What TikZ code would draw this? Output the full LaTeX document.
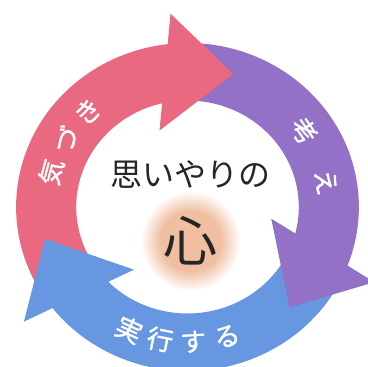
\documentclass[tikz,border=0pt]{standalone}
\usepackage{fontspec}
\usepackage{tikz}
\usetikzlibrary{positioning}
\newfontfamily\jp{Noto Sans CJK JP}
\newfontfamily\jpb[FakeBold=1.2]{Noto Sans CJK JP}
\definecolor{kiduki}{RGB}{233,106,128}
\definecolor{kangae}{RGB}{146,113,198}
\definecolor{jikkou}{RGB}{104,151,225}
\definecolor{peach}{RGB}{240,190,160}
\pgfdeclareradialshading{glow}{\pgfpoint{0bp}{0bp}}{color(0bp)=(peach); color(15bp)=(peach); color(25bp)=(white)}

\begin{document}
\begin{tikzpicture}[x=1pt,y=1pt,
    ringlabel/.style={text=white,font=\jpb\fontsize{26}{26}\selectfont,inner sep=0pt},
    centre/.style={text=black!85,font=\jp\fontsize{#1}{#1}\selectfont,inner sep=0pt}]
  \fill[white] (0,0) rectangle (367,367);
  \useasboundingbox (0,0) rectangle (367,367);
  \coordinate (c) at (187.5,160);
  \coordinate (heart) at (190.5,126);
  \shade[shading=glow] (heart) circle (50);
  \begin{scope}[shift={(c)},xscale=1.045]
    % shafts first, heads on top
    \foreach \col/\s/\t in {kiduki/215/71.8, jikkou/-24/-166.8, kangae/93.6/-45.8}
      \fill[\col] (\s:164) arc[start angle=\s,end angle=\t+23.8,radius=164]
        -- ({\t+30.4}:106.5) arc[start angle=\t+30.4,end angle=\s,radius=106.5] -- cycle;
    \foreach \col/\t in {kiduki/71.8, jikkou/-166.8, kangae/-45.8}
      \fill[\col] ({\t+23}:194) -- (\t:140) -- ({\t+37.5}:81) -- cycle;
    % labels on the ring
    \foreach \ch/\a [count=\i] in {気/165, づ/150, き/135}
      \node[ringlabel,rotate=\a-90] (ki\i) at (\a:135) {\ch};
    \foreach \ch/\a [count=\i] in {考/34.3, え/10.6}
      \node[ringlabel,rotate=\a-90] (ka\i) at (\a:135) {\ch};
    \foreach \ch/\a [count=\i] in {実/245.5, 行/258.8, す/272.3, る/286.2}
      \node[ringlabel,rotate=\a+90] (ji\i) at (\a:135) {\ch};
  \end{scope}
  \node[centre=32] (omoi) at (190,192) {思いやりの};
  \node[centre=54] (kokoro) at (heart) {心};
\end{tikzpicture}
\end{document}
